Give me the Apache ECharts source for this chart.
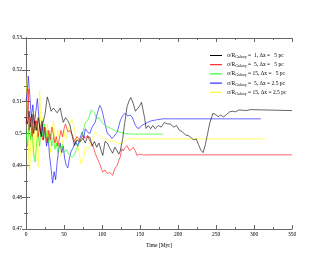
<!DOCTYPE html>
<html>
<head>
<meta charset="utf-8">
<script src="https://cdn.jsdelivr.net/npm/echarts@6/dist/echarts.min.js"></script>
<style>
  html, body { margin: 0; padding: 0; background: #fff; }
  #chart { width: 329px; height: 255px; }
</style>
</head>
<body>
<div id="chart"></div>
<script>
// time [Myr] and <C> for each run
const tBlack = [0, 2, 4, 6, 8, 10, 12, 14, 16, 18, 20, 22, 25, 28, 30, 33, 36, 38, 41, 45, 49, 52, 55, 58, 61, 64, 67, 71, 75, 78, 81, 84, 87, 90, 93, 96, 99, 101, 104, 107, 110, 114, 117, 120, 122, 124, 127, 130, 133, 136, 138, 141, 144, 146, 149, 152, 154, 156, 158, 161, 164, 167, 170, 174, 178, 182, 186, 190, 194, 198, 202, 206, 210, 214, 218, 221, 224, 227, 230, 233, 236, 239, 242, 246, 249, 253, 256, 260, 264, 268, 272, 276, 280, 285, 290, 295, 350]
const cBlack = [0.505, 0.503, 0.507, 0.502, 0.506, 0.500, 0.504, 0.501, 0.505, 0.502, 0.499, 0.503, 0.506, 0.5115, 0.510, 0.507, 0.508, 0.5075, 0.5065, 0.508, 0.5035, 0.505, 0.504, 0.5025, 0.499, 0.4962, 0.498, 0.4973, 0.4985, 0.497, 0.499, 0.4988, 0.496, 0.4975, 0.4957, 0.497, 0.4945, 0.4931, 0.4975, 0.497, 0.4955, 0.4938, 0.4957, 0.4945, 0.4935, 0.4945, 0.498, 0.5035, 0.5085, 0.5105, 0.5113, 0.5095, 0.507, 0.5067, 0.5085, 0.5098, 0.5095, 0.505, 0.5016, 0.5025, 0.5015, 0.5025, 0.5015, 0.5025, 0.502, 0.5035, 0.503, 0.503, 0.502, 0.5025, 0.501, 0.5005, 0.4995, 0.4993, 0.4985, 0.498, 0.4983, 0.4965, 0.4948, 0.494, 0.4965, 0.500, 0.5035, 0.5063, 0.506, 0.5053, 0.5058, 0.5052, 0.506, 0.5068, 0.507, 0.5068, 0.5074, 0.5073, 0.5072, 0.5075, 0.5072]

const tRed = [0, 2, 3, 4, 6, 8, 10, 12, 14, 16, 18, 20, 22, 24, 26, 28, 30, 32, 34, 36, 38, 40, 42, 44, 46, 48, 50, 52, 55, 58, 61, 64, 67, 71, 75, 78, 81, 84, 87, 89, 91, 94, 97, 99, 101, 104, 107, 110, 112, 114, 117, 120, 122, 124, 126, 128, 130, 133, 136, 139, 141, 144, 146, 149, 152, 155, 160, 350]
const cRed = [0.503, 0.507, 0.514, 0.501, 0.505, 0.499, 0.506, 0.501, 0.504, 0.499, 0.503, 0.500, 0.498, 0.502, 0.499, 0.497, 0.501, 0.498, 0.502, 0.500, 0.497, 0.499, 0.496, 0.4985, 0.501, 0.499, 0.5015, 0.503, 0.5005, 0.501, 0.4995, 0.4975, 0.499, 0.4978, 0.4994, 0.4985, 0.4994, 0.4975, 0.4968, 0.4955, 0.4938, 0.492, 0.4905, 0.489, 0.4879, 0.4885, 0.4874, 0.4878, 0.4872, 0.4869, 0.489, 0.490, 0.4915, 0.4926, 0.4952, 0.4945, 0.4955, 0.4962, 0.4947, 0.495, 0.4957, 0.4945, 0.4931, 0.4935, 0.4934, 0.4932, 0.4933, 0.4933]

const tGreen = [0, 2, 4, 6, 8, 10, 12, 14, 16, 18, 20, 22, 24, 26, 28, 30, 32, 34, 36, 38, 40, 42, 44, 46, 48, 50, 53, 56, 58, 61, 64, 67, 71, 74, 78, 81, 84, 86, 88, 90, 93, 96, 100, 104, 108, 113, 118, 124, 130, 140, 180]
const cGreen = [0.501, 0.496, 0.503, 0.498, 0.502, 0.494, 0.491, 0.497, 0.500, 0.496, 0.502, 0.499, 0.503, 0.498, 0.501, 0.497, 0.500, 0.496, 0.499, 0.495, 0.497, 0.494, 0.4965, 0.4955, 0.4965, 0.494, 0.495, 0.4935, 0.4938, 0.4925, 0.4935, 0.4955, 0.4973, 0.4995, 0.5035, 0.504, 0.506, 0.5075, 0.5079, 0.5065, 0.5046, 0.505, 0.5035, 0.5025, 0.502, 0.5015, 0.5008, 0.5004, 0.500, 0.4998, 0.4998]

const tBlue = [0, 2, 3, 5, 7, 9, 11, 13, 15, 17, 19, 21, 23, 25, 27, 29, 31, 33, 35, 37, 39, 41, 43, 45, 47, 49, 51, 53, 55, 57, 59, 62, 65, 68, 71, 74, 76, 78, 81, 84, 87, 91, 94, 97, 99, 101, 104, 107, 110, 113, 116, 120, 124, 127, 130, 134, 137, 140, 143, 146, 149, 152, 156, 160, 165, 172, 180, 190, 309]
const cBlue = [0.510, 0.514, 0.518, 0.512, 0.505, 0.509, 0.503, 0.507, 0.511, 0.505, 0.500, 0.504, 0.498, 0.502, 0.496, 0.499, 0.493, 0.489, 0.4844, 0.488, 0.4855, 0.491, 0.495, 0.497, 0.494, 0.496, 0.492, 0.490, 0.4892, 0.492, 0.4942, 0.4955, 0.4975, 0.496, 0.4985, 0.5005, 0.4985, 0.5015, 0.5005, 0.500, 0.502, 0.5035, 0.5065, 0.5088, 0.508, 0.5063, 0.503, 0.500, 0.4995, 0.4984, 0.4992, 0.5004, 0.504, 0.5055, 0.5063, 0.5055, 0.5058, 0.505, 0.503, 0.5018, 0.5016, 0.5025, 0.503, 0.5035, 0.504, 0.5043, 0.5046, 0.5046, 0.5046]

const tYellow = [0, 1, 2, 3, 4, 5, 6, 7, 8, 9, 10, 11, 12, 13, 14, 15, 16, 17, 18, 20, 22, 24, 26, 28, 30, 32, 34, 36, 38, 40, 42, 44, 46, 48, 50, 52, 55, 58, 61, 64, 67, 70, 72, 74, 76, 78, 81, 84, 87, 89, 91, 94, 97, 100, 104, 110, 116, 120, 124, 128, 131, 134, 140, 315]
const cYellow = [0.5178, 0.512, 0.505, 0.498, 0.490, 0.4885, 0.496, 0.503, 0.499, 0.494, 0.492, 0.499, 0.507, 0.505, 0.497, 0.491, 0.4895, 0.497, 0.5134, 0.500, 0.505, 0.501, 0.497, 0.503, 0.499, 0.494, 0.500, 0.504, 0.499, 0.496, 0.501, 0.498, 0.493, 0.497, 0.501, 0.498, 0.5005, 0.503, 0.5045, 0.501, 0.4975, 0.494, 0.4905, 0.490, 0.4925, 0.4957, 0.495, 0.4962, 0.498, 0.4995, 0.5004, 0.4998, 0.4994, 0.4988, 0.498, 0.4978, 0.4975, 0.497, 0.4968, 0.4972, 0.498, 0.4985, 0.4983, 0.4983]

const runNames = ['r1', 'r2', 'r3', 'r4', 'r5']
const runSigma = [' 1', ' 5', '15', ' 5', '15']
const runDx = ['  5', '  5', '  5', '2.5', '2.5']
const runColors = ['#000000', '#ff0000', '#00ff00', '#0000ff', '#ffff00']

const zip = (t, c) => t.map((x, i) => [x, c[i]])
const runData = [
  zip(tBlack, cBlack),
  zip(tRed, cRed),
  zip(tGreen, cGreen),
  zip(tBlue, cBlue),
  zip(tYellow, cYellow)
]

const serif = 'Liberation Serif, DejaVu Serif, serif'
const axisColor = '#666'

const series = runNames.map((name, i) => ({
  name,
  type: 'line',
  data: runData[i],
  showSymbol: false,
  symbol: 'none',
  lineStyle: { width: 0.6, color: runColors[i] },
  itemStyle: { color: runColors[i] },
  z: 5 - i
}))

const boxAxis = (extra) => Object.assign({
  type: 'value',
  axisLine: { show: true, lineStyle: { color: axisColor, width: 1 } },
  axisTick: { show: true, inside: true, length: 4, lineStyle: { color: axisColor } },
  minorTick: { show: true, splitNumber: 2, length: 2, lineStyle: { color: axisColor } },
  splitLine: { show: false },
  axisLabel: { show: false }
}, extra)

const chart = echarts.init(document.getElementById('chart'))
chart.setOption({
  animation: false,
  backgroundColor: '#fff',
  grid: { left: 26, right: 37, top: 38, bottom: 26, containLabel: false, outerBoundsMode: 'none' },
  legend: {
    orient: 'vertical',
    left: 205,
    top: 47,
    itemWidth: 12,
    itemHeight: 1,
    itemGap: 2.2,
    icon: 'rect',
    data: runNames,
    formatter: (name) => {
      const i = runNames.indexOf(name)
      return '{a|σ/R}{s|Galaxy}{a| = ' + runSigma[i] + ', Δx = ' + runDx[i] + ' pc}'
    },
    textStyle: {
      fontFamily: serif,
      fontSize: 5.5,
      color: '#000',
      rich: {
        a: { fontFamily: serif, fontSize: 5.5, color: '#000', lineHeight: 7 },
        s: { fontFamily: serif, fontSize: 4, color: '#000', padding: [3, 0, 0, 0], lineHeight: 7 }
      }
    }
  },
  xAxis: [
    boxAxis({
      min: 0, max: 350, interval: 50,
      name: 'Time [Myr]',
      nameLocation: 'middle',
      nameGap: 12,
      nameTextStyle: { fontFamily: serif, fontSize: 5.5, color: '#000' },
      axisLabel: { show: true, fontFamily: serif, fontSize: 5.5, color: '#000', margin: 3 }
    }),
    boxAxis({ min: 0, max: 350, interval: 50, position: 'top' })
  ],
  yAxis: [
    boxAxis({
      min: 0.47, max: 0.53, interval: 0.01,
      name: '< C >',
      nameLocation: 'middle',
      nameGap: 17,
      nameTextStyle: { fontFamily: serif, fontSize: 6, color: '#000' },
      axisLabel: {
        show: true, fontFamily: serif, fontSize: 5.5, color: '#000', margin: 4,
        formatter: (v) => String(+v.toFixed(2))
      }
    }),
    boxAxis({ min: 0.47, max: 0.53, interval: 0.01, position: 'right' })
  ],
  series
})
</script>
</body>
</html>
